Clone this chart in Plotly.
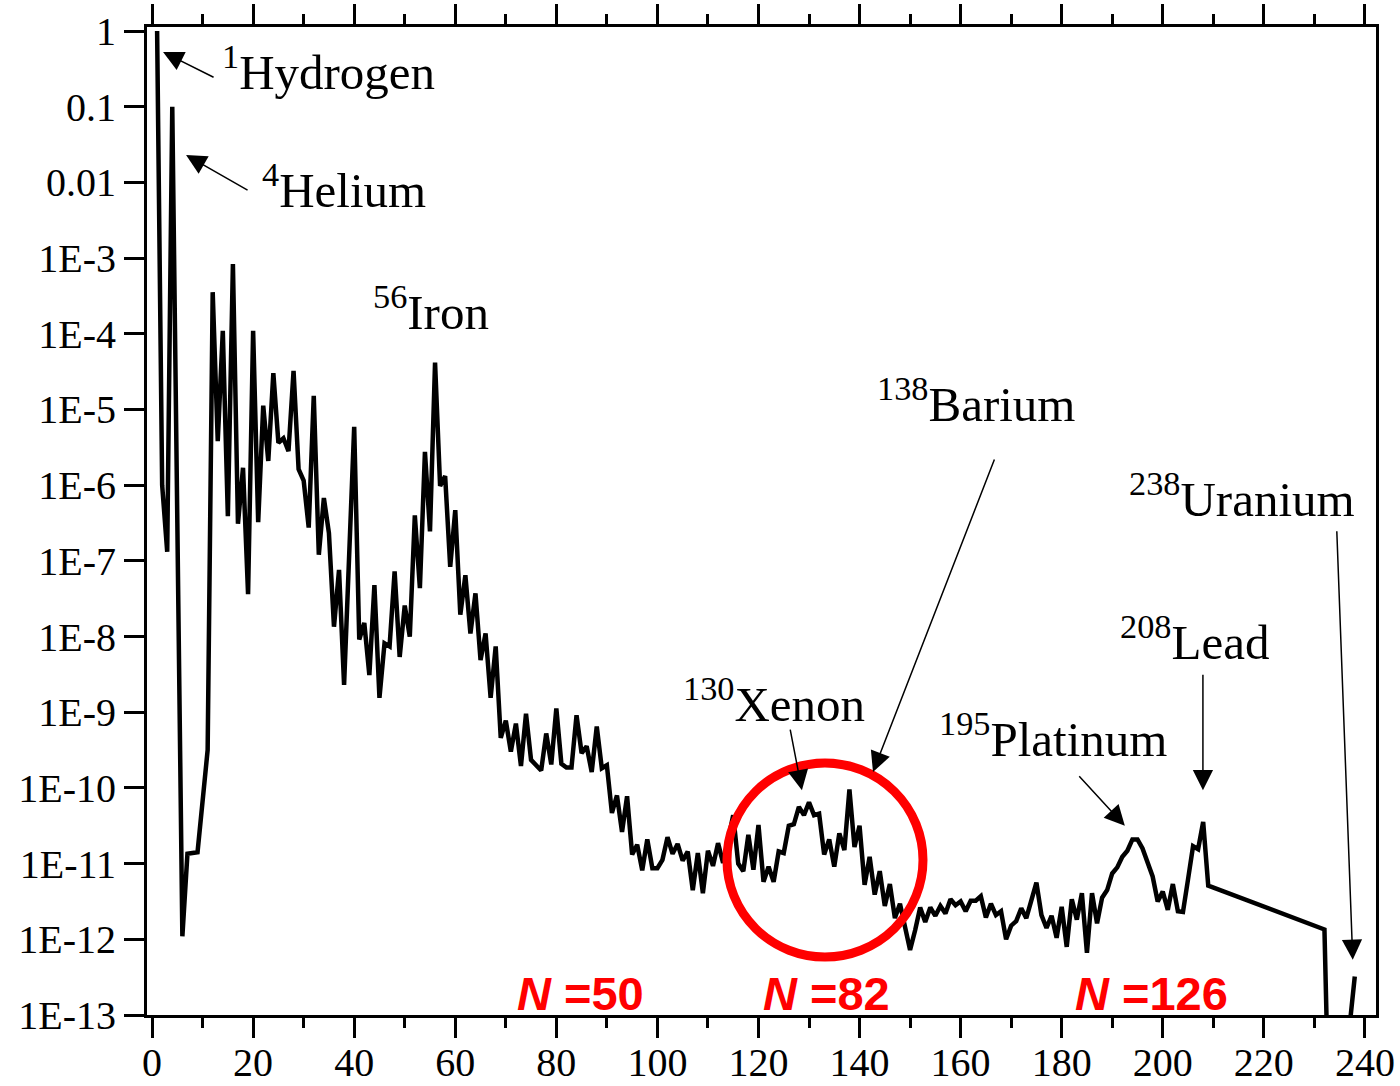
import plotly.graph_objects as go

# Mass number A of each plotted isotope
mass_number = (
    [1, 2, 3, 4, 6, 7, 9, 10, 11]
    + list(range(12, 210))
    + [232, 233, 237, 238]
)

# log10 of abundance relative to hydrogen, one entry per mass number
log_abundance = [
    0.0, -6.0, -6.88, -1.0, -11.96, -10.87, -10.85, -10.2, -9.5,
    # A = 12 .. 39
    -3.45, -5.42, -3.96, -6.41, -3.08, -6.51, -5.77, -7.44, -3.96, -6.49,
    -4.95, -5.68, -4.52, -5.44, -5.38, -5.55, -4.49, -5.79, -5.94, -6.56,
    -4.82, -6.92, -6.17, -6.63, -7.87, -7.12, -8.64, -6.94,
    # A = 40 .. 69
    -5.23, -8.04, -7.82, -8.51, -7.32, -8.81, -8.09, -8.13, -7.14, -8.27,
    -7.59, -8.0, -6.40, -7.36, -5.56, -6.61, -4.38, -6.01, -5.88, -7.08,
    -6.33, -7.71, -7.19, -7.96, -7.43, -8.31, -7.96, -8.81, -8.13, -9.34,
    # A = 70 .. 99
    -9.11, -9.52, -9.15, -9.71, -9.02, -9.63, -9.70, -9.77, -9.28, -9.69,
    -8.95, -9.68, -9.73, -9.73, -9.04, -9.54, -9.45, -9.79, -9.19, -9.74,
    -9.70, -10.33, -10.10, -10.58, -10.11, -10.88, -10.75, -11.09, -10.68, -11.06,
    # A = 100 .. 129
    -11.06, -10.95, -10.65, -10.87, -10.74, -10.96, -10.84, -11.35, -10.86, -11.39,
    -10.83, -11.03, -10.73, -10.99, -10.68, -10.36, -11.0, -11.1, -10.62, -11.08,
    -10.49, -11.24, -11.04, -11.24, -10.84, -10.86, -10.50, -10.48, -10.25, -10.36,
    # A = 130 .. 159
    -10.19, -10.36, -10.34, -10.88, -10.68, -11.04, -10.60, -10.82, -10.02, -10.78,
    -10.50, -11.28, -10.91, -11.41, -11.10, -11.56, -11.27, -11.72, -11.53, -11.84,
    -12.14, -11.88, -11.58, -11.77, -11.58, -11.69, -11.56, -11.66, -11.47, -11.55,
    # A = 160 .. 189
    -11.50, -11.63, -11.49, -11.49, -11.43, -11.71, -11.53, -11.68, -11.63, -12.0,
    -11.82, -11.76, -11.59, -11.72, -11.48, -11.25, -11.68, -11.85, -11.69, -11.98,
    -11.57, -12.10, -11.47, -11.74, -11.39, -12.18, -11.39, -11.79, -11.45, -11.35,
    # A = 190 .. 209
    -11.13, -11.05, -10.91, -10.83, -10.68, -10.68, -10.80, -10.97, -11.17, -11.50,
    -11.37, -11.61, -11.27, -11.63, -11.64, -11.21, -10.77, -10.81, -10.45, -11.29,
    # A = 232, 233, 237, 238
    -11.87, -14.7, -13.13, -12.49,
]

abundance = [10 ** v for v in log_abundance]

x_ticks = list(range(0, 241, 20))
y_tick_values = [10.0 ** -k for k in range(13, -1, -1)]
y_tick_labels = ["1E-13", "1E-12", "1E-11", "1E-10", "1E-9", "1E-8", "1E-7",
                 "1E-6", "1E-5", "1E-4", "1E-3", "0.01", "0.1", "1"]

SERIF = "Liberation Serif, Times New Roman, serif"
SANS = "Liberation Sans, Arial, sans-serif"

fig = go.Figure()
fig.add_trace(go.Scatter(
    x=mass_number, y=abundance, mode="lines",
    line=dict(color="black", width=4.5),
    showlegend=False, hoverinfo="x+y",
))

# Isotope labels: (text, x in A, y in log10 units)
isotope_labels = [
    ("<sup>1</sup>Hydrogen", 13.4, -0.50),
    ("<sup>4</sup>Helium", 21.3, -2.05),
    ("<sup>56</sup>Iron", 43.3, -3.67),
    ("<sup>138</sup>Barium", 143.0, -4.88),
    ("<sup>238</sup>Uranium", 193.0, -6.14),
    ("<sup>208</sup>Lead", 191.2, -8.02),
    ("<sup>130</sup>Xenon", 104.6, -8.84),
    ("<sup>195</sup>Platinum", 155.4, -9.31),
]
annotations = []
for text, ax_x, ax_y in isotope_labels:
    annotations.append(dict(
        text=text, x=ax_x, y=ax_y, xref="x", yref="y",
        xanchor="left", yanchor="middle", showarrow=False,
        font=dict(family=SERIF, size=49, color="black"),
    ))

# Pointer arrows: head (A, log10 y) and tail offset in pixels
arrows = [
    (2.18, -0.277, 52, 26),
    (6.73, -1.638, 63, 36),
    (128.6, -10.03, -12, -62),
    (142.66, -9.79, 122, -314),
    (192.5, -10.50, -47, -51),
    (207.95, -10.03, 0, -117),
    (237.6, -12.27, -16, -430),
]
for hx, hy, dx, dy in arrows:
    annotations.append(dict(
        text="", x=hx, y=hy, xref="x", yref="y", ax=dx, ay=dy,
        showarrow=True, arrowhead=2, arrowsize=2.7, arrowwidth=1.5,
        arrowcolor="black", standoff=0,
    ))

# Magic neutron numbers
magic_labels = [("<b><i>N</i> =50</b>", 71.8), ("<b><i>N</i> =82</b>", 120.5),
                ("<b><i>N</i> =126</b>", 182.2)]
for text, ax_x in magic_labels:
    annotations.append(dict(
        text=text, x=ax_x, y=-12.71, xref="x", yref="y",
        xanchor="left", yanchor="middle", showarrow=False,
        font=dict(family=SANS, size=47, color="#ff0000"),
    ))

fig.update_layout(
    width=1400, height=1086,
    margin=dict(l=147, r=24, t=27, b=71),
    paper_bgcolor="white", plot_bgcolor="white",
    font=dict(family=SERIF, size=40, color="black"),
    annotations=annotations,
    shapes=[dict(
        type="circle", xref="paper", yref="paper",
        x0=0.4719, x1=0.6314, y0=0.0587, y1=0.2551,
        line=dict(color="#ff0000", width=9),
    )],
    xaxis=dict(
        range=[-1, 242.2], tickmode="array", tickvals=x_ticks,
        ticks="outside", ticklen=20, tickwidth=3, tickcolor="black",
        showline=True, linewidth=3, linecolor="black", mirror="ticks",
        showgrid=False, zeroline=False, automargin=False,
        ticklabelstandoff=-10,
        minor=dict(tickmode="linear", tick0=10, dtick=20, ticks="outside",
                   ticklen=10, tickwidth=3, tickcolor="black", showgrid=False),
        tickfont=dict(family=SERIF, size=40, color="black"),
    ),
    yaxis=dict(
        type="log", range=[-13, 0.053], tickmode="array",
        tickvals=y_tick_values, ticktext=y_tick_labels,
        ticks="outside", ticklen=20, tickwidth=3, tickcolor="black",
        showline=True, linewidth=3, linecolor="black", mirror=True,
        showgrid=False, zeroline=False, automargin=False,
        tickfont=dict(family=SERIF, size=40, color="black"),
    ),
)

fig.write_html("out.html")
